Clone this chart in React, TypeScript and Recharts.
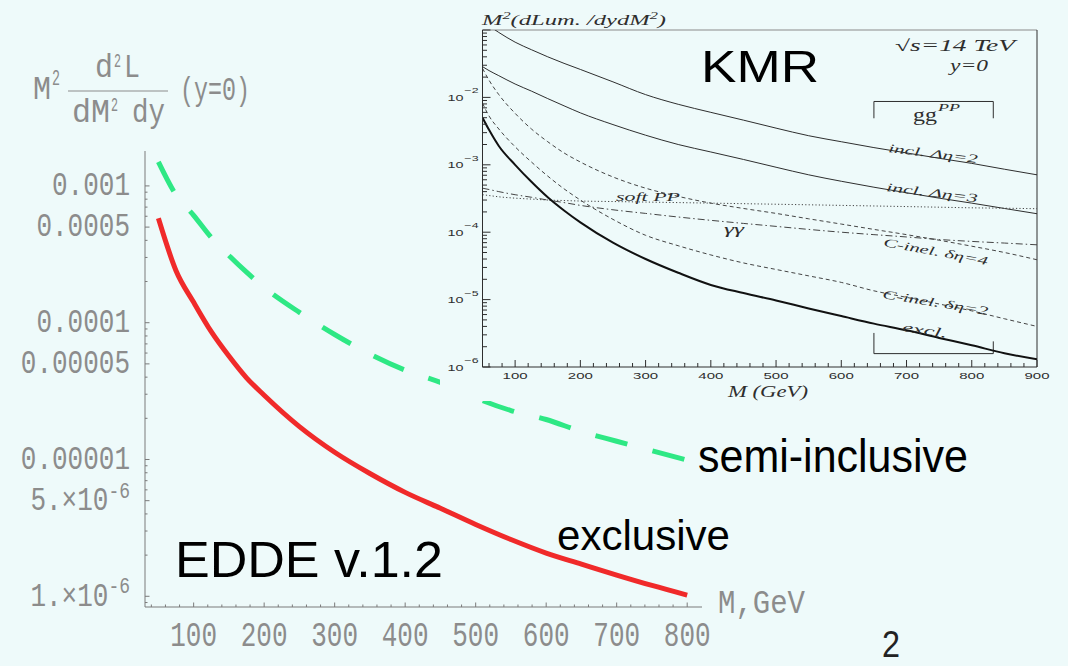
// EDDE v.1.2 luminosity plot with the KMR comparison inset.
import * as React from 'react';
import { LineChart, Line, XAxis, YAxis, ReferenceLine } from 'recharts';

const BG = '#eefafa';
const RED = '#f02a2a';
const GREEN = '#2ee884';
const GREY = '#7a7a7a';
const LABEL = '#8c8c8c';
const INK = '#2e2e2e';
const SANS = "'Liberation Sans', Arial, sans-serif";
const MONO = "'Liberation Mono', 'Courier New', monospace";
const SERIF = "'Liberation Serif', 'Times New Roman', serif";

// ---- main plot (EDDE) ----
const eddeMass = [50, 75, 100, 125, 150, 175, 200, 250, 300, 350, 400, 450, 500, 550, 600, 650, 700, 750, 800];
const eddeExclusive = [5.8e-4, 2.4e-4, 1.41e-4, 8.6e-5, 5.7e-5, 3.95e-5, 2.95e-5, 1.74e-5, 1.13e-5, 7.9e-6, 5.75e-6, 4.4e-6, 3.35e-6, 2.6e-6, 2.07e-6, 1.72e-6, 1.43e-6, 1.2e-6, 1.02e-6];
const eddeSemiInclusive = [1.5e-3, 8.6e-4, 6.1e-4, 4.2e-4, 3.1e-4, 2.34e-4, 1.81e-4, 1.19e-4, 8.2e-5, 5.9e-5, 4.5e-5, 3.66e-5, 2.82e-5, 2.28e-5, 1.96e-5, 1.6e-5, 1.36e-5, 1.16e-5, 9.9e-6];

const mainXTicks = [40, 60, 80, 100, 120, 140, 160, 180, 200, 220, 240, 260, 280, 300, 320, 340, 360, 380, 400, 420, 440, 460, 480, 500, 520, 540, 560, 580, 600, 620, 640, 660, 680, 700, 720, 740, 760, 780, 800];
const mainXLabels = [100, 200, 300, 400, 500, 600, 700, 800];
const mainYLabeled = [1e-6, 5e-6, 1e-5, 5e-5, 1e-4, 5e-4, 1e-3];
const mainYLabelText = ['1.×10^-6', '5.×10^-6', '0.00001', '0.00005', '0.0001', '0.0005', '0.001'];
const mainYMinor = [9e-7, 2e-6, 3e-6, 4e-6, 6e-6, 7e-6, 8e-6, 9e-6, 2e-5, 3e-5, 4e-5, 6e-5, 7e-5, 8e-5, 9e-5, 2e-4, 3e-4, 4e-4, 6e-4, 7e-4, 8e-4, 9e-4];

// ---- inset (KMR) ----
const kmrMass = [50, 60, 75, 100, 125, 150, 175, 200, 250, 300, 350, 400, 450, 500, 550, 600, 650, 700, 750, 800, 850, 900];
const kmrInclEta2 = [0.135, 0.115, 0.092, 0.066, 0.051, 0.04, 0.032, 0.026, 0.017, 0.011, 7.9e-3, 6.0e-3, 4.6e-3, 3.5e-3, 2.7e-3, 2.2e-3, 1.8e-3, 1.5e-3, 1.25e-3, 1.05e-3, 8.6e-4, 7.1e-4];
const kmrInclEta3 = [0.0286, 0.025, 0.021, 0.0158, 0.0124, 9.6e-3, 7.5e-3, 5.9e-3, 3.95e-3, 2.75e-3, 2.0e-3, 1.55e-3, 1.2e-3, 9.2e-4, 7.1e-4, 5.7e-4, 4.65e-4, 3.85e-4, 3.2e-4, 2.7e-4, 2.25e-4, 1.88e-4];
const kmrCInel4 = [0.027, 0.018, 0.011, 5.8e-3, 3.4e-3, 2.2e-3, 1.5e-3, 1.1e-3, 6.6e-4, 4.5e-4, 3.4e-4, 2.7e-4, 2.25e-4, 1.9e-4, 1.58e-4, 1.32e-4, 1.1e-4, 9.2e-5, 7.6e-5, 6.2e-5, 5.0e-5, 3.9e-5];
const kmrCInel2 = [8.2e-3, 5.3e-3, 3.4e-3, 1.85e-3, 1.1e-3, 6.8e-4, 4.4e-4, 3.0e-4, 1.55e-4, 9.0e-5, 6.3e-5, 4.6e-5, 3.5e-5, 2.8e-5, 2.25e-5, 1.8e-5, 1.35e-5, 1.08e-5, 8.6e-6, 6.8e-6, 5.2e-6, 4.0e-6];
const kmrExcl = [5.0e-3, 3.3e-3, 1.9e-3, 1.0e-3, 5.6e-4, 3.3e-4, 2.1e-4, 1.4e-4, 7.0e-5, 4.0e-5, 2.5e-5, 1.65e-5, 1.25e-5, 9.7e-6, 7.4e-6, 5.7e-6, 4.4e-6, 3.5e-6, 2.7e-6, 2.1e-6, 1.6e-6, 1.3e-6];
const kmrSoftPP = [3.6e-4, 3.5e-4, 3.35e-4, 3.2e-4, 3.1e-4, 3.0e-4, 2.95e-4, 2.9e-4, 2.85e-4, 2.8e-4, 2.75e-4, 2.7e-4, 2.65e-4, 2.6e-4, 2.55e-4, 2.5e-4, 2.45e-4, 2.4e-4, 2.35e-4, 2.3e-4, 2.27e-4, 2.23e-4];
const kmrGammaGamma = [4.5e-4, 4.3e-4, 4.0e-4, 3.6e-4, 3.3e-4, 3.0e-4, 2.75e-4, 2.5e-4, 2.15e-4, 1.9e-4, 1.68e-4, 1.5e-4, 1.35e-4, 1.22e-4, 1.1e-4, 1.0e-4, 9.2e-5, 8.5e-5, 7.8e-5, 7.3e-5, 6.9e-5, 6.5e-5];

const kmrXTicks = [60, 80, 100, 120, 140, 160, 180, 200, 220, 240, 260, 280, 300, 320, 340, 360, 380, 400, 420, 440, 460, 480, 500, 520, 540, 560, 580, 600, 620, 640, 660, 680, 700, 720, 740, 760, 780, 800, 820, 840, 860, 880, 900];
const kmrXLabels = [100, 200, 300, 400, 500, 600, 700, 800, 900];
const kmrYMajor = [1e-6, 1e-5, 1e-4, 1e-3, 1e-2, 1e-1];
const kmrYExponents = ['−6', '−5', '−4', '−3', '−2', ''];
const kmrYMinor = [
  2e-6, 3e-6, 4e-6, 5e-6, 6e-6, 7e-6, 8e-6, 9e-6,
  2e-5, 3e-5, 4e-5, 5e-5, 6e-5, 7e-5, 8e-5, 9e-5,
  2e-4, 3e-4, 4e-4, 5e-4, 6e-4, 7e-4, 8e-4, 9e-4,
  2e-3, 3e-3, 4e-3, 5e-3, 6e-3, 7e-3, 8e-3, 9e-3,
  2e-2, 3e-2, 4e-2, 5e-2, 6e-2, 7e-2, 8e-2, 9e-2,
];

// mass window brackets drawn in the inset
const windowMass = [650, 833];
const ggBracket = { top: 8.7e-3, foot: 4.9e-3 };
const exclBracket = { bottom: 1.58e-6, left: 3.2e-6, right: 2.4e-6 };

const eddeRows = eddeMass.map((m, i) => ({ m, exclusive: eddeExclusive[i], semi: eddeSemiInclusive[i] }));
const kmrRows = kmrMass.map((m, i) => ({
  m,
  incl2: kmrInclEta2[i],
  incl3: kmrInclEta3[i],
  cinel4: kmrCInel4[i],
  cinel2: kmrCInel2[i],
  excl: kmrExcl[i],
  soft: kmrSoftPP[i],
  gg: kmrGammaGamma[i],
}));

type TxtProps = {
  x: number;
  y: number;
  w?: number;
  size: number;
  sy?: number;
  rot?: number;
  family: string;
  italic?: boolean;
  fill?: string;
  anchor?: 'start' | 'middle' | 'end';
  children: React.ReactNode;
};

function Txt({ x, y, w, size, sy = 1, rot = 0, family, italic, fill = '#000', anchor = 'start', children }: TxtProps) {
  return (
    <g transform={`translate(${x} ${y}) rotate(${rot}) scale(1 ${sy})`}>
      <text
        x={0}
        y={0}
        fontSize={size}
        fontFamily={family}
        fontStyle={italic ? 'italic' : 'normal'}
        fill={fill}
        textAnchor={anchor}
        textLength={w}
        lengthAdjust={w ? 'spacingAndGlyphs' : undefined}
      >
        {children}
      </text>
    </g>
  );
}

function MainYTick(props: any) {
  const { x, y, payload } = props;
  const idx = mainYLabeled.indexOf(payload.value);
  const major = idx >= 0;
  const [base, sup] = major ? mainYLabelText[idx].split('^') : ['', ''];
  return (
    <g>
      <line x1={x} x2={x + (major ? 4.5 : 2.5)} y1={y} y2={y} stroke={GREY} />
      {major && (
        <g transform={`translate(${x - 15} ${y}) scale(1 1.25)`}>
          <text x={0} y={7.5} fontFamily={MONO} fontSize={26} fill={LABEL} textAnchor="end">
            {base}
            {sup && (
              <tspan dy={-10} fontSize={18}>
                {sup}
              </tspan>
            )}
          </text>
        </g>
      )}
    </g>
  );
}

function MainXTick(props: any) {
  const { x, y, payload } = props;
  const major = mainXLabels.includes(payload.value);
  return (
    <g>
      <line x1={x} x2={x} y1={y} y2={y - (major ? 4.5 : 2.5)} stroke={GREY} />
      {major && (
        <g transform={`translate(${x} ${y + 28}) scale(1 1.35)`}>
          <text x={0} y={8} fontFamily={MONO} fontSize={26} fill={LABEL} textAnchor="middle">
            {payload.value}
          </text>
        </g>
      )}
    </g>
  );
}

function KmrYTick(props: any) {
  const { x, y, payload } = props;
  const idx = kmrYMajor.indexOf(payload.value);
  const major = idx >= 0;
  const exp = major ? kmrYExponents[idx] : '';
  return (
    <g>
      <line x1={x} x2={x + (major ? 8 : 4.5)} y1={y} y2={y} stroke={INK} />
      {exp && (
        <>
          <text x={x - 35} y={y + 3.5} fontSize={9.5} fontFamily={SANS} fill={INK} textLength={16} lengthAdjust="spacingAndGlyphs">
            10
          </text>
          <text x={x - 18} y={y - 4} fontSize={8} fontFamily={SANS} fill={INK} textLength={14} lengthAdjust="spacingAndGlyphs">
            {exp}
          </text>
        </>
      )}
    </g>
  );
}

function KmrXTick(props: any) {
  const { x, y, payload } = props;
  const major = kmrXLabels.includes(payload.value);
  return (
    <g>
      <line x1={x} x2={x} y1={y} y2={y - (major ? 7 : 4)} stroke={INK} />
      {major && (
        <text x={x} y={y + 11.5} textAnchor="middle" fontSize={8.5} fontFamily={SANS} fill={INK} textLength={25} lengthAdjust="spacingAndGlyphs">
          {payload.value}
        </text>
      )}
    </g>
  );
}

function MainChart() {
  return (
    <LineChart width={1068} height={666} data={eddeRows} margin={{ top: 151, right: 366, bottom: 9, left: 0 }}>
      <XAxis
        dataKey="m"
        type="number"
        domain={[31, 821]}
        allowDataOverflow
        ticks={mainXTicks}
        interval={0}
        tickSize={0}
        tickMargin={0}
        tickLine={false}
        tick={MainXTick}
        axisLine={{ stroke: GREY }}
        height={50}
      />
      <YAxis
        type="number"
        scale="log"
        domain={[8.35e-7, 1.8e-3]}
        allowDataOverflow
        ticks={[...mainYMinor, ...mainYLabeled]}
        interval={0}
        tickSize={0}
        tickMargin={0}
        tickLine={false}
        tick={MainYTick}
        axisLine={{ stroke: GREY }}
        width={145}
      />
      <Line dataKey="semi" type="monotone" stroke={GREEN} strokeWidth={5} strokeDasharray="33 26" dot={false} isAnimationActive={false} />
      <Line dataKey="exclusive" type="monotone" stroke={RED} strokeWidth={5} dot={false} isAnimationActive={false} />
    </LineChart>
  );
}

function KmrChart() {
  const [m0, m1] = windowMass;
  return (
    <LineChart width={610} height={401} data={kmrRows} margin={{ top: 30, right: 13, bottom: 0, left: 0 }}>
      <XAxis
        dataKey="m"
        type="number"
        domain={[50, 900]}
        allowDataOverflow
        ticks={kmrXTicks}
        interval={0}
        tickSize={0}
        tickMargin={0}
        tickLine={false}
        tick={KmrXTick}
        axisLine={{ stroke: INK }}
        height={34}
      />
      <YAxis
        type="number"
        scale="log"
        domain={[1e-6, 0.1]}
        allowDataOverflow
        ticks={[...kmrYMinor, ...kmrYMajor]}
        interval={0}
        tickSize={0}
        tickMargin={0}
        tickLine={false}
        tick={KmrYTick}
        axisLine={{ stroke: INK }}
        width={42.5}
      />
      <ReferenceLine y={0.1} stroke="#8a8a8a" strokeWidth={1.2} />
      <ReferenceLine x={900} stroke={INK} strokeWidth={1} />
      <ReferenceLine segment={[{ x: m0, y: ggBracket.top }, { x: m1, y: ggBracket.top }]} stroke={INK} />
      <ReferenceLine segment={[{ x: m0, y: ggBracket.top }, { x: m0, y: ggBracket.foot }]} stroke={INK} />
      <ReferenceLine segment={[{ x: m1, y: ggBracket.top }, { x: m1, y: ggBracket.foot }]} stroke={INK} />
      <ReferenceLine segment={[{ x: m0, y: exclBracket.bottom }, { x: m1, y: exclBracket.bottom }]} stroke={INK} />
      <ReferenceLine segment={[{ x: m0, y: exclBracket.bottom }, { x: m0, y: exclBracket.left }]} stroke={INK} />
      <ReferenceLine segment={[{ x: m1, y: exclBracket.bottom }, { x: m1, y: exclBracket.right }]} stroke={INK} />
      <Line dataKey="incl2" type="monotone" stroke={INK} strokeWidth={1} dot={false} isAnimationActive={false} />
      <Line dataKey="incl3" type="monotone" stroke={INK} strokeWidth={1} dot={false} isAnimationActive={false} />
      <Line dataKey="cinel4" type="monotone" stroke="#444" strokeWidth={1} strokeDasharray="4 3" dot={false} isAnimationActive={false} />
      <Line dataKey="cinel2" type="monotone" stroke="#444" strokeWidth={1} strokeDasharray="4 3" dot={false} isAnimationActive={false} />
      <Line dataKey="soft" type="monotone" stroke="#444" strokeWidth={1} strokeDasharray="1.2 2.2" dot={false} isAnimationActive={false} />
      <Line dataKey="gg" type="monotone" stroke="#444" strokeWidth={1} strokeDasharray="7 3 1.5 3" dot={false} isAnimationActive={false} />
      <Line dataKey="excl" type="monotone" stroke="#111" strokeWidth={2} dot={false} isAnimationActive={false} />
    </LineChart>
  );
}

function Annotations() {
  return (
    <svg width={1068} height={666} style={{ position: 'absolute', left: 0, top: 0, pointerEvents: 'none' }}>
      {/* main y-axis label: M^2 d^2L / dM^2 dy (y=0) */}
      <Txt x={33} y={99} w={18} size={24} sy={1.4} family={MONO} fill={LABEL}>M</Txt>
      <Txt x={52} y={85} w={8} size={16} sy={1.4} family={MONO} fill={LABEL}>2</Txt>
      <Txt x={95} y={77} w={18} size={24} sy={1.4} family={MONO} fill={LABEL}>d</Txt>
      <Txt x={114} y={67} w={7} size={15} sy={1.4} family={MONO} fill={LABEL}>2</Txt>
      <Txt x={124} y={77} w={16} size={24} sy={1.4} family={MONO} fill={LABEL}>L</Txt>
      <line x1={68} x2={168} y1={91} y2={91} stroke={LABEL} strokeWidth={1.2} />
      <Txt x={72} y={122} w={38} size={24} sy={1.4} family={MONO} fill={LABEL}>dM</Txt>
      <Txt x={111} y={111} w={7} size={15} sy={1.4} family={MONO} fill={LABEL}>2</Txt>
      <Txt x={132} y={122} w={33} size={24} sy={1.4} family={MONO} fill={LABEL}>dy</Txt>
      <Txt x={180} y={100} w={70} size={24} sy={1.4} family={MONO} fill={LABEL}>(y=0)</Txt>
      <Txt x={718} y={613} w={87} size={26} sy={1.3} family={MONO} fill={LABEL}>M,GeV</Txt>

      {/* slide labels */}
      <Txt x={175} y={577} w={268} size={50} family={SANS}>EDDE v.1.2</Txt>
      <Txt x={557} y={550} w={173} size={43} family={SANS}>exclusive</Txt>
      <Txt x={698} y={472} w={270} size={46} family={SANS}>semi-inclusive</Txt>
      <Txt x={701} y={82} w={118} size={44} family={SANS}>KMR</Txt>
      <Txt x={882} y={657} w={18} size={37} family={SANS} fill="#222">2</Txt>

      {/* inset labels */}
      <g fill={INK}>
        <text x={482} y={25} fontSize={15} fontFamily={SERIF} fontStyle="italic" fill={INK} textLength={184} lengthAdjust="spacingAndGlyphs">
          M<tspan dy={-6} fontSize={10}>2</tspan>
          <tspan dy={6}>(dLum. /dydM</tspan>
          <tspan dy={-6} fontSize={10}>2</tspan>
          <tspan dy={6}>)</tspan>
        </text>
        <Txt x={895} y={51} w={120} size={16} family={SERIF} italic fill={INK}>√s=14 TeV</Txt>
        <Txt x={950} y={71} w={38} size={16} family={SERIF} italic fill={INK}>y=0</Txt>
        <Txt x={913} y={121} w={24} size={18} family={SERIF} fill={INK}>gg</Txt>
        <Txt x={938} y={111} w={22} size={11} family={SERIF} italic fill={INK}>PP</Txt>
        <Txt x={888} y={152} w={90} size={12} rot={7} family={SERIF} italic fill={INK}>incl. Δη=2</Txt>
        <Txt x={886} y={191} w={92} size={12} rot={7} family={SERIF} italic fill={INK}>incl. Δη=3</Txt>
        <Txt x={616} y={201} w={64} size={12} family={SERIF} italic fill={INK}>soft PP</Txt>
        <Txt x={724} y={234} w={20} size={14} family={SERIF} italic fill={INK}>γγ</Txt>
        <Txt x={883} y={246} w={106} size={12} rot={10.4} family={SERIF} italic fill={INK}>C-inel. δη=4</Txt>
        <Txt x={882} y={298} w={107} size={12} rot={9.2} family={SERIF} italic fill={INK}>C-inel. δη=2</Txt>
        <Txt x={902} y={331} w={45} size={13} rot={9} family={SERIF} italic fill={INK}>excl.</Txt>
        <Txt x={728} y={397} w={80} size={17} family={SERIF} italic fill={INK}>M (GeV)</Txt>
      </g>
    </svg>
  );
}

export default function App() {
  return (
    <div style={{ position: 'relative', width: 1068, height: 666, background: BG, overflow: 'hidden' }}>
      <style>{'body { margin: 0; }'}</style>
      <div style={{ position: 'absolute', left: 0, top: 0 }}>
        <MainChart />
      </div>
      <div style={{ position: 'absolute', left: 440, top: 0, width: 610, height: 401, background: BG }}>
        <KmrChart />
      </div>
      <Annotations />
    </div>
  );
}
